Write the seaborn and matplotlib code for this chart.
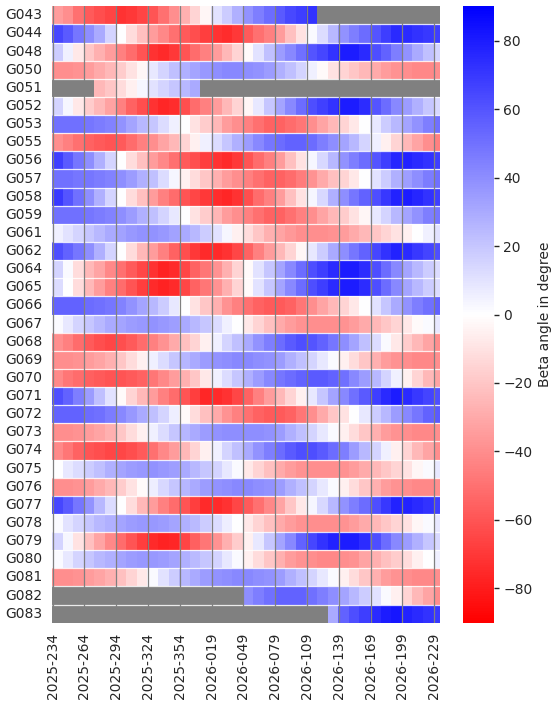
import numpy as np
import pandas as pd
import matplotlib
matplotlib.use("Agg")
import matplotlib.pyplot as plt
import seaborn as sns

N = np.nan
BIN_DAYS = 10          # each heatmap column spans 10 days
TOTAL_DAYS = 366       # 2025-234 .. 2026-234

satellites = ["G043", "G044", "G048", "G050", "G051", "G052", "G053", "G055",
              "G056", "G057", "G058", "G059", "G061", "G062", "G064", "G065",
              "G066", "G067", "G068", "G069", "G070", "G071", "G072", "G073",
              "G074", "G075", "G076", "G077", "G078", "G079", "G080", "G081",
              "G082", "G083"]

tick_labels = ["2025-234", "2025-264", "2025-294", "2025-324", "2025-354",
               "2026-019", "2026-049", "2026-079", "2026-109", "2026-139",
               "2026-169", "2026-199", "2026-229"]

g043 = [-35, -40, -50, -58, -62, -66, -72, -70, -66, -60, -50, -40, -28, -15, -3, 10, 18, 28, 38, 45,
        52, 58, 64, 68, 72] + [N] * 12
g044 = [65, 58, 48, 40, 30, 15, 0, -12, -22, -35, -42, -50, -58, -62, -68, -72, -74, -70, -58, -50,
        -45, -35, -22, -10, 2, 12, 25, 38, 45, 52, 60, 68, 75, 75, 72, 70, 68]
g048 = [18, 5, -8, -20, -28, -35, -45, -52, -60, -72, -75, -70, -60, -52, -45, -35, -25, -15, -2, 10,
        22, 35, 42, 50, 60, 65, 72, 80, 80, 75, 62, 55, 45, 38, 30, 22, 15]
g050 = [-40, -40, -38, -35, -30, -25, -18, -10, -3, 8, 15, 22, 28, 32, 36, 40, 42, 42, 40, 38,
        35, 28, 22, 15, 5, -2, -10, -15, -20, -25, -30, -35, -38, -40, -42, -42, -40]
g051 = [N, N, N, N, -25, -20, -12, -5, 3, 10, 15, 20, 25, 30] + [N] * 23
g052 = [15, 3, -8, -18, -25, -33, -45, -55, -62, -72, -76, -74, -62, -52, -45, -35, -25, -15, -3, 8,
        20, 32, 42, 52, 62, 67, 72, 80, 80, 74, 60, 52, 42, 35, 28, 20, 14]
g053 = [50, 50, 50, 48, 46, 44, 38, 32, 25, 20, 12, 5, 0, -10, -18, -25, -35, -40, -45, -50,
        -55, -55, -52, -48, -40, -32, -25, -15, -8, 0, 8, 18, 25, 32, 38, 45, 50]
g055 = [-40, -45, -50, -55, -58, -60, -58, -52, -45, -40, -32, -25, -15, -5, 5, 12, 20, 28, 35, 42,
        48, 52, 55, 55, 52, 45, 40, 32, 25, 15, 5, -5, -15, -25, -32, -40, -45]
g056 = [68, 58, 48, 40, 28, 15, 0, -12, -22, -35, -42, -50, -58, -62, -68, -72, -75, -70, -60, -52,
        -45, -35, -22, -10, 3, 14, 25, 38, 45, 52, 60, 68, 76, 78, 75, 72, 68]
g057 = [50, 50, 48, 48, 46, 44, 40, 35, 28, 22, 12, 3, -5, -12, -20, -28, -35, -40, -45, -50,
        -55, -55, -52, -46, -38, -30, -22, -15, -8, 0, 10, 18, 28, 34, 40, 46, 50]
g058 = [70, 60, 50, 40, 28, 15, 0, -12, -22, -35, -45, -52, -60, -65, -70, -74, -76, -72, -62, -52,
        -45, -35, -22, -10, 3, 14, 28, 40, 48, 55, 62, 70, 78, 80, 76, 72, 68]
g059 = [50, 50, 50, 48, 46, 44, 40, 35, 28, 22, 15, 8, 0, -10, -18, -26, -35, -40, -45, -50,
        -55, -55, -50, -45, -40, -32, -25, -18, -10, -3, 8, 15, 25, 32, 38, 45, 48]
g061 = [5, 10, 15, 20, 25, 30, 33, 36, 38, 38, 36, 33, 30, 25, 18, 10, 3, -5, -12, -20,
        -28, -32, -36, -40, -40, -40, -38, -35, -30, -25, -20, -15, -10, -5, 0, 5, 10]
g062 = [62, 55, 48, 40, 28, 15, 0, -12, -25, -35, -45, -55, -62, -70, -75, -75, -72, -65, -55, -45,
        -35, -25, -15, -3, 8, 18, 30, 40, 48, 55, 65, 72, 78, 75, 70, 66, 62]
g064 = [15, 2, -12, -25, -32, -42, -50, -58, -65, -72, -78, -75, -65, -55, -48, -38, -28, -15, -2, 10,
        20, 32, 42, 52, 62, 68, 75, 80, 80, 74, 62, 52, 42, 32, 25, 18, 12]
g065 = [12, 0, -12, -25, -35, -45, -52, -60, -68, -75, -78, -75, -65, -55, -48, -38, -28, -15, -2, 10,
        20, 32, 42, 52, 62, 68, 75, 80, 80, 74, 62, 52, 42, 32, 25, 18, 12]
g066 = [55, 55, 55, 52, 50, 48, 44, 38, 32, 25, 18, 8, 0, -10, -20, -28, -38, -45, -50, -55,
        -58, -58, -55, -48, -40, -32, -25, -15, -8, 0, 10, 20, 30, 38, 45, 50, 55]
g067 = [2, 8, 15, 20, 25, 30, 32, 35, 36, 38, 36, 34, 30, 25, 20, 12, 5, 0, -8, -15,
        -22, -30, -35, -38, -40, -40, -40, -38, -35, -30, -25, -20, -15, -8, -2, 2, 8]
g068 = [-40, -45, -52, -58, -62, -65, -62, -58, -52, -45, -38, -30, -22, -15, -5, 5, 15, 22, 30, 38,
        45, 52, 58, 62, 60, 55, 48, 40, 32, 22, 12, 2, -8, -18, -25, -32, -40]
g069 = [-40, -40, -38, -35, -32, -28, -20, -12, -5, 5, 12, 20, 26, 30, 35, 38, 40, 42, 42, 40,
        38, 35, 28, 22, 15, 8, 2, -5, -12, -20, -28, -35, -38, -40, -42, -42, -40]
g070 = [-42, -48, -52, -56, -58, -60, -60, -58, -55, -48, -42, -35, -28, -20, -8, 5, 12, 20, 28, 35,
        42, 48, 52, 55, 58, 58, 55, 50, 42, 35, 25, 15, 5, -5, -15, -25, -32]
g071 = [62, 55, 45, 35, 22, 10, -2, -15, -25, -35, -45, -52, -60, -68, -76, -75, -72, -65, -55, -45,
        -35, -25, -15, -5, 8, 20, 32, 42, 50, 58, 68, 75, 80, 75, 70, 66, 62]
g072 = [55, 55, 55, 52, 50, 46, 42, 36, 30, 22, 15, 6, -2, -12, -22, -30, -38, -45, -50, -55,
        -58, -58, -55, -48, -40, -30, -20, -10, 0, 8, 18, 25, 35, 42, 48, 55, 58]
g073 = [-40, -40, -38, -35, -32, -28, -20, -12, -5, 5, 12, 20, 26, 30, 35, 38, 40, 40, 40, 40,
        38, 35, 28, 22, 15, 8, 2, -5, -12, -20, -28, -35, -38, -40, -42, -42, -40]
g074 = [-42, -48, -55, -60, -62, -65, -65, -62, -58, -50, -42, -35, -25, -15, -5, 5, 15, 22, 30, 38,
        45, 52, 58, 62, 62, 58, 52, 45, 35, 25, 15, 5, -5, -15, -25, -32, -40]
g075 = [0, 8, 12, 18, 22, 28, 32, 35, 36, 38, 36, 34, 30, 25, 20, 15, 8, 2, -8, -15,
        -22, -30, -35, -38, -40, -40, -40, -38, -35, -30, -25, -20, -15, -10, -3, 2, 8]
g076 = [-40, -40, -38, -35, -30, -25, -18, -10, -2, 6, 14, 20, 26, 30, 35, 38, 40, 42, 42, 40,
        38, 35, 28, 22, 15, 8, 2, -5, -12, -20, -28, -35, -38, -40, -42, -42, -40]
g077 = [65, 58, 48, 38, 25, 12, 0, -12, -25, -35, -45, -52, -60, -68, -75, -75, -72, -65, -58, -50,
        -42, -32, -20, -8, 3, 14, 25, 38, 45, 52, 62, 70, 78, 78, 75, 72, 68]
g078 = [2, 10, 15, 20, 25, 28, 32, 35, 36, 36, 35, 32, 28, 24, 18, 12, 6, 0, -8, -15,
        -22, -30, -35, -38, -40, -40, -40, -38, -35, -30, -25, -20, -15, -10, -3, 2, 8]
g079 = [15, 3, -10, -22, -32, -42, -52, -60, -68, -75, -78, -76, -66, -56, -48, -38, -28, -18, -5, 8,
        20, 32, 42, 55, 65, 72, 78, 80, 80, 74, 62, 52, 42, 35, 28, 20, 14]
g080 = [2, 8, 15, 20, 25, 28, 32, 35, 36, 36, 35, 32, 28, 24, 20, 15, 8, 2, -5, -12,
        -20, -28, -35, -38, -40, -42, -42, -40, -38, -32, -28, -22, -18, -12, -5, 0, 5]
g081 = [-40, -40, -38, -35, -32, -28, -22, -15, -8, 2, 10, 18, 25, 30, 35, 38, 40, 42, 42, 40,
        38, 35, 28, 22, 15, 8, 2, -5, -12, -20, -28, -35, -38, -40, -42, -42, -40]
g082 = [N] * 18 + [40, 45, 50, 55, 55, 55, 50, 45, 40, 32, 25, 18, 10, 2, -5, -15, -25, -32, -40]
g083 = [N] * 26 + [30, 55, 62, 68, 75, 80, 82, 78, 75, 72, 70]

rows = [g043, g044, g048, g050, g051, g052, g053, g055, g056, g057, g058, g059,
        g061, g062, g064, g065, g066, g067, g068, g069, g070, g071, g072, g073,
        g074, g075, g076, g077, g078, g079, g080, g081, g082, g083]

ncol = max(len(r) for r in rows)
rows = [list(r) + [N] * (ncol - len(r)) for r in rows]
df = pd.DataFrame(rows, index=satellites)

sns.set_theme(style="white")
plt.rcParams["font.family"] = ["DejaVu Sans"]

fig = plt.figure(figsize=(5.57, 7.03), dpi=100)
ax = fig.add_axes([52 / 557, 80.3 / 703, 388 / 557, 616.4 / 703])
cax = fig.add_axes([463 / 557, 80.3 / 703, 31 / 557, 616.4 / 703])

sns.heatmap(df, ax=ax, cbar_ax=cax, cmap="bwr_r", vmin=-90, vmax=90,
            cbar_kws={"label": "Beta angle in degree"})
ax.set_facecolor("#808080")
ax.set_xlim(0, TOTAL_DAYS / BIN_DAYS)

tick_days = np.arange(len(tick_labels)) * 30
ax.set_xticks((tick_days + 0.5) / BIN_DAYS)
ax.set_xticklabels(tick_labels, rotation=90, fontsize=10)
ax.set_yticks(np.arange(len(satellites)) + 0.5)
ax.set_yticklabels(satellites, rotation=0, fontsize=10)
ax.tick_params(axis="both", length=0, pad=7)

# grid lines drawn over the heatmap at the date ticks
ax.set_axisbelow(False)
ax.xaxis.grid(True, color="#808080", linewidth=0.9)
ax.yaxis.grid(False)
# thin white separators between satellite rows
ax.hlines(np.arange(1, len(satellites)), 0, TOTAL_DAYS / BIN_DAYS,
          colors="white", linewidth=0.9, alpha=0.85)

cax.set_yticks(np.arange(-80, 81, 20))
cax.tick_params(axis="y", labelsize=10, length=3.6, width=1, pad=3, right=True)
cax.yaxis.label.set_size(10)

fig.savefig("out.png", dpi=100)
